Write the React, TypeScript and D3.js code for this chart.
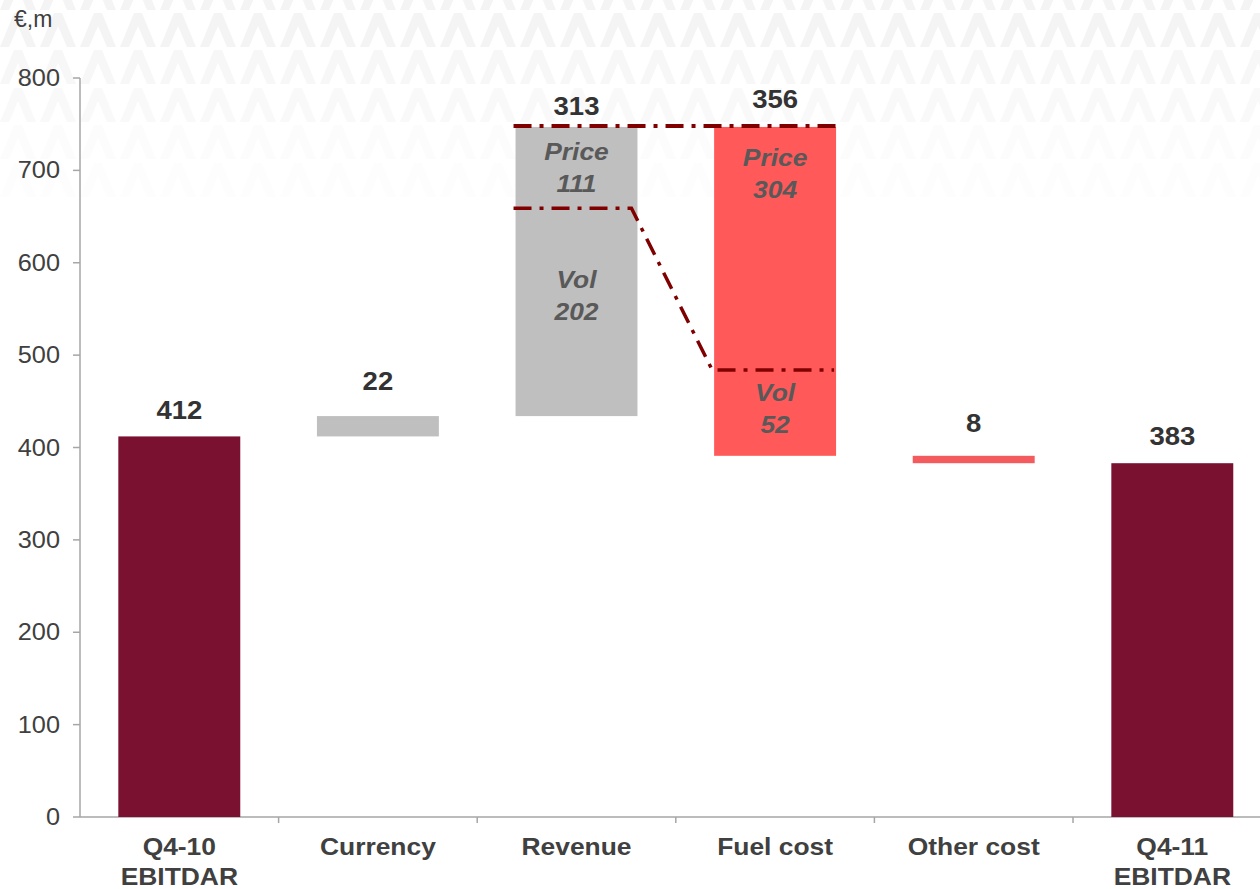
import React from "react";
import * as d3 from "d3";

const categories = ["Q4-10|EBITDAR", "Currency", "Revenue", "Fuel cost", "Other cost", "Q4-11|EBITDAR"];
const kinds = ["total", "up", "up", "down", "down", "total"];
const deltas = [412, 22, 313, -356, -8, 383];
const totalLabels = ["412", "22", "313", "356", "8", "383"];
const yTicks = [0, 100, 200, 300, 400, 500, 600, 700, 800];

// stacked sub-segments (category, label, value, label anchor level)
const segCategory = ["Revenue", "Revenue", "Fuel cost", "Fuel cost"];
const segName = ["Price", "Vol", "Price", "Vol"];
const segValue = [111, 202, 304, 52];
const segLabelLevel = [704, 565, 697, 443];

// dash-dot connector levels
const topLevel = 748;
const revenueSplit = 659;
const fuelSplit = 484;

const W = 1260;
const H = 889;
const SX = 1.1;

function T(props: {
  x: number;
  y: number;
  size: number;
  anchor?: string;
  weight?: string;
  italic?: boolean;
  fill: string;
  sx?: number;
  children: React.ReactNode;
}) {
  const s = props.sx ?? SX;
  return (
    <text
      transform={`translate(${props.x},${props.y}) scale(${s},1)`}
      fontSize={props.size}
      textAnchor={props.anchor ?? "middle"}
      fontWeight={props.weight ?? "normal"}
      fontStyle={props.italic ? "italic" : "normal"}
      fill={props.fill}
    >
      {props.children}
    </text>
  );
}

export default function App() {
  const y = d3.scaleLinear().domain([0, 800]).range([817, 78]);
  const x = d3
    .scaleBand<string>()
    .domain(categories)
    .range([80, 1271.6])
    .paddingInner(0.386)
    .paddingOuter(0.193);
  const bw = x.bandwidth();

  let running = 0;
  const bars = categories.map((c, i) => {
    let lo: number, hi: number;
    if (kinds[i] === "total") {
      lo = 0;
      hi = deltas[i];
      running = deltas[i];
    } else {
      const next = running + deltas[i];
      lo = Math.min(running, next);
      hi = Math.max(running, next);
      running = next;
    }
    return { c, lo, hi, kind: kinds[i], i };
  });

  const colorOf = (k: string, c: string) => {
    if (k === "total") return "#7B1131";
    if (k === "up") return "#BFBFBF";
    if (c === "Other cost") return "#F45B5E";
    return "#FF5959";
  };

  const labelDy = [-17, -26, -12, -19, -24, -18];

  // background chevrons (faint watermark)
  const chevrons: { cx: number; top: number; op: number }[] = [];
  const rowTops = [-24, 13, 50, 88, 125, 163];
  const rowOps = [1, 1, 0.75, 0.5, 0.3, 0.15];
  rowTops.forEach((t, r) => {
    d3.range(0, 33).forEach((k) => {
      chevrons.push({ cx: 18 + 40 * k, top: t, op: rowOps[r] });
    });
  });
  const chevPath = (cx: number, t: number) => {
    const b = t + 34;
    return `M${cx - 18},${b} L${cx - 4},${t} L${cx + 4},${t} L${cx + 18},${b} L${cx + 9},${b} L${cx},${t + 13} L${cx - 9},${b} Z`;
  };

  const xc = (c: string) => (x(c) as number) + bw / 2;
  const dash = "18,8,4,8";
  const lineColor = "#800000";

  const revX = x("Revenue") as number;
  const fuelX = x("Fuel cost") as number;

  const axisColor = "#A6A6A6";
  const textColor = "#404040";
  const font = "'Liberation Sans', Arial, sans-serif";

  return (
    <svg width={W} height={H} style={{ position: "absolute", left: 0, top: 0, background: "#fff" }} fontFamily={font}>
      <rect x={0} y={0} width={W} height={H} fill="#ffffff" />
      <g>
        {chevrons.map((ch, i) => (
          <path key={i} d={chevPath(ch.cx, ch.top)} fill="#F4F4F4" opacity={ch.op} />
        ))}
      </g>
      <T x={14} y={27} size={23} anchor="start" fill={textColor} sx={1.0}>
        €,m
      </T>

      {/* y axis */}
      <line x1={80} x2={80} y1={y(800)} y2={y(0)} stroke={axisColor} strokeWidth={1.5} />
      {yTicks.map((t) => (
        <g key={t}>
          <line x1={73} x2={80} y1={y(t)} y2={y(t)} stroke={axisColor} strokeWidth={1.5} />
          <T x={60} y={y(t) + 8} size={23} anchor="end" fill={textColor}>
            {t}
          </T>
        </g>
      ))}

      {/* x axis */}
      <line x1={80} x2={W} y1={y(0)} y2={y(0)} stroke={axisColor} strokeWidth={1.5} />
      {categories.map((c, i) => {
        const left = (x(c) as number) - (x.step() * x.paddingInner()) / 2;
        return i === 0 ? null : (
          <line key={c} x1={left} x2={left} y1={y(0)} y2={y(0) + 6} stroke={axisColor} strokeWidth={1.5} />
        );
      })}
      {categories.map((c) =>
        c.split("|").map((l, j) => (
          <T key={c + j} x={xc(c)} y={855 + j * 30} size={24} weight="bold" fill={textColor}>
            {l}
          </T>
        ))
      )}

      {/* bars */}
      {bars.map((b) => (
        <rect
          key={b.c}
          x={x(b.c)}
          width={bw}
          y={y(b.hi)}
          height={y(b.lo) - y(b.hi)}
          fill={colorOf(b.kind, b.c)}
        />
      ))}

      {/* totals */}
      {bars.map((b) => (
        <T key={b.c} x={xc(b.c)} y={y(b.hi) + labelDy[b.i]} size={25} weight="bold" fill="#333">
          {totalLabels[b.i]}
        </T>
      ))}

      {/* dash-dot connectors */}
      <line x1={revX - 2} x2={fuelX + bw + 2} y1={y(topLevel)} y2={y(topLevel)} stroke={lineColor} strokeWidth={4} strokeDasharray={dash} />
      <path
        d={`M${revX - 2},${y(revenueSplit)} L${revX + bw - 6},${y(revenueSplit)} L${fuelX - 2},${y(fuelSplit)} L${fuelX + bw - 2},${y(fuelSplit)}`}
        fill="none"
        stroke={lineColor}
        strokeWidth={3.5}
        strokeDasharray={dash}
      />

      {/* segment labels */}
      {segName.map((n, i) => {
        const cx = xc(segCategory[i]);
        const cy = y(segLabelLevel[i]);
        return (
          <g key={i}>
            <T x={cx} y={cy - 7} size={24} weight="bold" italic fill="#595959">
              {n}
            </T>
            <T x={cx} y={cy + 25} size={24} weight="bold" italic fill="#595959">
              {segValue[i]}
            </T>
          </g>
        );
      })}
    </svg>
  );
}
